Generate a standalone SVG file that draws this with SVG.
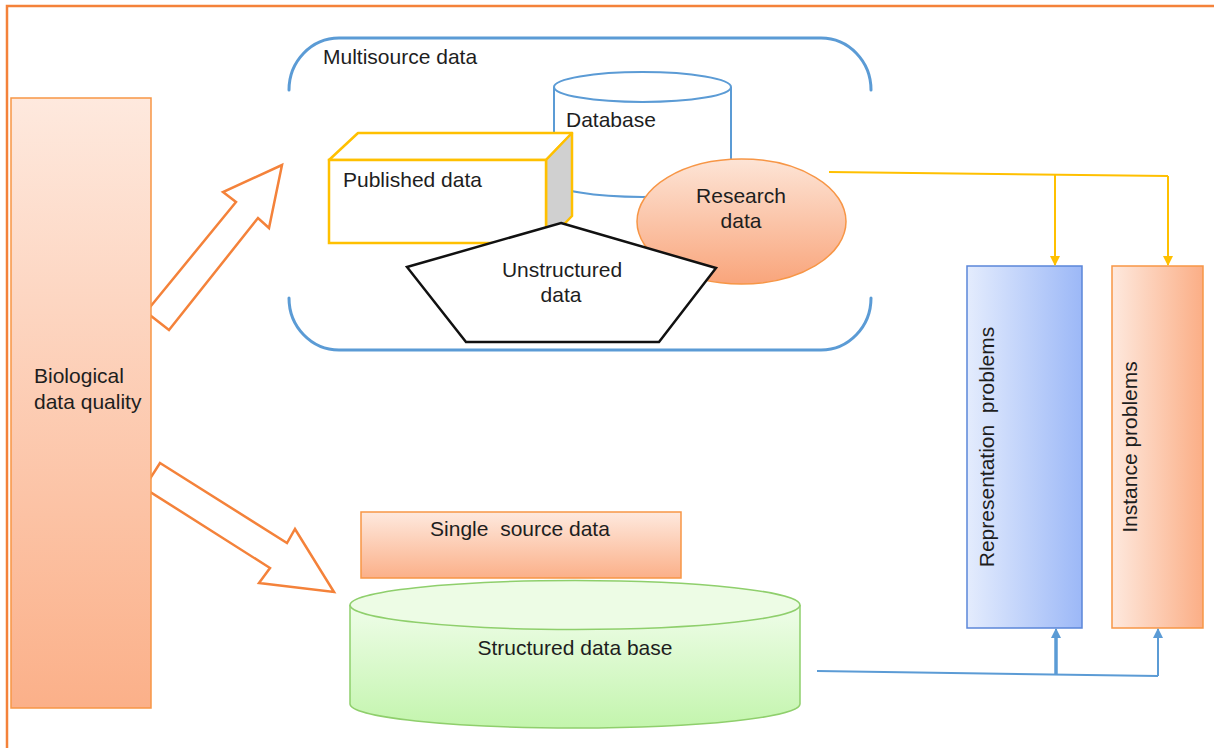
<svg xmlns="http://www.w3.org/2000/svg" width="1214" height="748" viewBox="0 0 1214 748">
  <defs>
    <linearGradient id="peachV" x1="0" y1="0" x2="0" y2="1">
      <stop offset="0" stop-color="#fee9de"/>
      <stop offset="1" stop-color="#fbb089"/>
    </linearGradient>
    <linearGradient id="peachH" x1="0" y1="0" x2="1" y2="0">
      <stop offset="0" stop-color="#fee9de"/>
      <stop offset="1" stop-color="#fbae86"/>
    </linearGradient>
    <linearGradient id="blueH" x1="0" y1="0" x2="1" y2="0">
      <stop offset="0" stop-color="#e4ecfd"/>
      <stop offset="1" stop-color="#9cb8f7"/>
    </linearGradient>
    <linearGradient id="greenV" x1="0" y1="0" x2="0" y2="1">
      <stop offset="0" stop-color="#effde9"/>
      <stop offset="1" stop-color="#c3f5ad"/>
    </linearGradient>
    <linearGradient id="ovalV" x1="0" y1="0" x2="0" y2="1">
      <stop offset="0" stop-color="#fde4d6"/>
      <stop offset="1" stop-color="#f9a57b"/>
    </linearGradient>
    <marker id="arrYellow" viewBox="0 0 10 10" refX="9" refY="5" markerWidth="10" markerHeight="11" markerUnits="userSpaceOnUse" orient="auto">
      <path d="M0,0 L10,5 L0,10 Z" fill="#ffc000"/>
    </marker>
    <marker id="arrBlue" viewBox="0 0 10 10" refX="9" refY="5" markerWidth="10" markerHeight="11" markerUnits="userSpaceOnUse" orient="auto">
      <path d="M0,0 L10,5 L0,10 Z" fill="#5b9bd5"/>
    </marker>
  </defs>
  <style>
    text { font-family: "Liberation Sans", Arial, sans-serif; font-size: 21px; fill: #1e1e1e; }
    .mid { text-anchor: middle; }
    .hollow { fill: #ffffff; stroke: #f4823a; stroke-width: 2.5; stroke-linejoin: miter; }
    .frame { fill: none; stroke: #f4823a; stroke-width: 2.5; }
    .bracket { fill: none; stroke: #5b9bd5; stroke-width: 3; stroke-linecap: round; }
    .yline { fill: none; stroke: #ffc000; stroke-width: 2; }
    .bline { fill: none; stroke: #5b9bd5; stroke-width: 2; }
    .bline.thick { stroke-width: 3.5; }
  </style>

  <!-- outer frame -->
  <path class="frame" d="M7,748 L7,6 L1214,6"/>

  <!-- wide hollow arrows out of the quality bar -->
  <g id="arrow-up">
    <polygon class="hollow" points="282,165 269,228 258,218 169,330 146,312 236,202 223,192"/>
  </g>
  <g id="arrow-down">
    <polygon class="hollow" points="160,463 287,543 295,529 334,592 259,583 270,568 144,488"/>
  </g>

  <!-- quality bar -->
  <g id="quality">
    <rect x="11" y="98" width="140" height="610" fill="url(#peachV)" stroke="#f79646" stroke-width="1.5"/>
    <text x="34" y="383">Biological</text>
    <text x="34" y="409">data quality</text>
  </g>

  <!-- multisource container -->
  <g id="multisource">
    <path class="bracket" d="M289,90 A50,52 0 0 1 339,38 L821,38 A50,52 0 0 1 871,90"/>
    <path class="bracket" d="M289,298 A50,52 0 0 0 339,350 L821,350 A50,52 0 0 0 871,298"/>
    <text x="323" y="64">Multisource data</text>
  </g>

  <g id="database">
    <path d="M554,87 L554,182 A88.5,15 0 0 0 731,182 L731,87" fill="#ffffff" stroke="#5b9bd5" stroke-width="2"/>
    <ellipse cx="642.5" cy="87" rx="88.5" ry="15" fill="#ffffff" stroke="#5b9bd5" stroke-width="2"/>
    <text x="566" y="127">Database</text>
  </g>

  <g id="published">
    <polygon points="329,160 358,133 572,133 546,160" fill="#ffffff" stroke="#ffc000" stroke-width="2.5" stroke-linejoin="round"/>
    <polygon points="546,160 572,133 572,216 546,243" fill="#d0d0d0" stroke="#ffc000" stroke-width="2.5" stroke-linejoin="round"/>
    <rect x="329" y="160" width="217" height="83" fill="#ffffff" stroke="#ffc000" stroke-width="2.5"/>
    <text x="343" y="187">Published data</text>
  </g>

  <g id="research">
    <ellipse cx="741.5" cy="221.5" rx="104.5" ry="62.5" fill="url(#ovalV)" stroke="#f79646" stroke-width="1.5"/>
    <text class="mid" x="741" y="203">Research</text>
    <text class="mid" x="741" y="228">data</text>
  </g>

  <g id="unstructured">
    <polygon points="561,223 716,268 659,342 466,342 407,267" fill="#ffffff" stroke="#111111" stroke-width="2.5"/>
    <text class="mid" x="562" y="277">Unstructured</text>
    <text class="mid" x="561" y="302">data</text>
  </g>

  <!-- single source branch -->
  <g id="single-source">
    <rect x="361" y="512" width="320" height="66" fill="url(#peachV)" stroke="#f79646" stroke-width="1.5"/>
    <text class="mid" x="520" y="536" xml:space="preserve">Single  source data</text>
  </g>

  <g id="structured">
    <path d="M350,605 L350,704 A225,24 0 0 0 800,704 L800,605" fill="url(#greenV)" stroke="#8fcf6c" stroke-width="1.5"/>
    <ellipse cx="575" cy="605" rx="225" ry="24.5" fill="#edfce5" stroke="#8fcf6c" stroke-width="1.5"/>
    <text class="mid" x="575" y="655">Structured data base</text>
  </g>

  <!-- problem categories -->
  <g id="representation">
    <rect x="967" y="266" width="115" height="362" fill="url(#blueH)" stroke="#5b86d9" stroke-width="1.5"/>
    <text class="mid" transform="translate(994,447) rotate(-90)" xml:space="preserve">Representation  problems</text>
  </g>

  <g id="instance">
    <rect x="1112" y="266" width="91" height="362" fill="url(#peachH)" stroke="#f79646" stroke-width="1.5"/>
    <text class="mid" transform="translate(1137,447) rotate(-90)">Instance problems</text>
  </g>

  <!-- connectors -->
  <g id="connectors">
    <path class="yline" d="M829,172 L1168,176"/>
    <path class="yline" d="M1055,175 L1055,265" marker-end="url(#arrYellow)"/>
    <path class="yline" d="M1168,176 L1168,265" marker-end="url(#arrYellow)"/>
    <path class="bline" d="M817,671 L1158,676"/>
    <path class="bline thick" d="M1056,675 L1056,636"/>
    <path class="bline" d="M1056,640 L1056,629" marker-end="url(#arrBlue)"/>
    <path class="bline" d="M1158,676 L1158,629" marker-end="url(#arrBlue)"/>
  </g>
</svg>
